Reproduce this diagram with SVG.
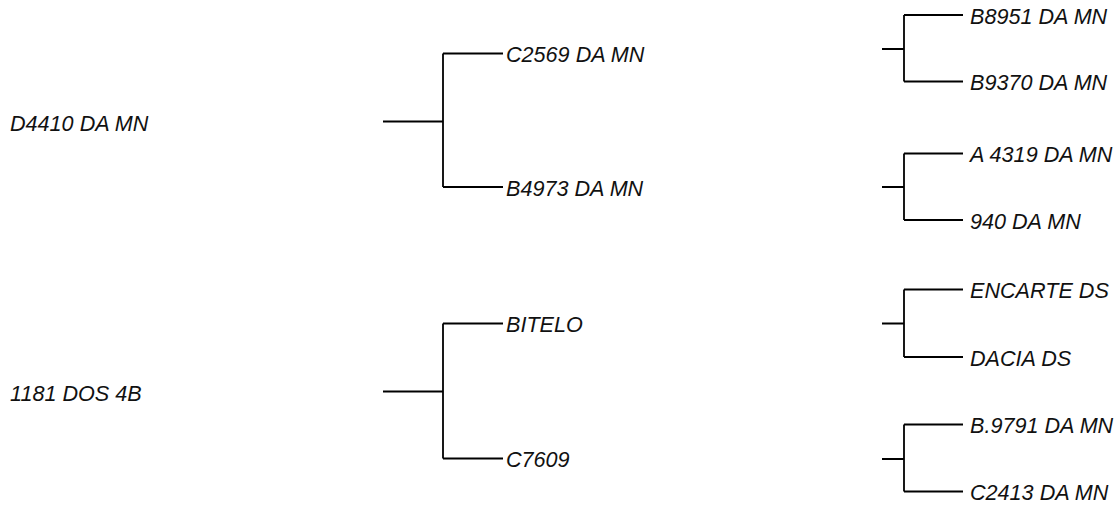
<svg xmlns="http://www.w3.org/2000/svg" width="1117" height="509" viewBox="0 0 1117 509">
<style>
.l{fill:none;stroke:#000;stroke-width:1.8}
text{font-family:"Liberation Sans",Arial,sans-serif;font-style:italic;font-size:21.6px;fill:#111}
</style>
<rect width="1117" height="509" fill="#fff"/>
<g id="connectors">
<path class="l" d="M383,121.5H443M443,53.5V187M443,53.5H503M443,187H503"/>
<path class="l" d="M383,391.5H443M443,323.5V458.5M443,323.5H503M443,458.5H503"/>
<path class="l" d="M882,49H904M904,15V81.5M904,15H963M904,81.5H963"/>
<path class="l" d="M882,187H904M904,153.5V220M904,153.5H963M904,220H963"/>
<path class="l" d="M882,323.5H904M904,289.5V357M904,289.5H963M904,357H963"/>
<path class="l" d="M882,459H904M904,424.5V491.5M904,424.5H963M904,491.5H963"/>
</g>
<g id="n1"><text x="10" y="131">D4410 DA MN</text></g>
<g id="n2"><text x="10" y="401">1181 DOS 4B</text></g>
<g id="n3"><text x="506" y="62">C2569 DA MN</text></g>
<g id="n4"><text x="506" y="195.5">B4973 DA MN</text></g>
<g id="n5"><text x="506" y="332">BITELO</text></g>
<g id="n6"><text x="506" y="467">C7609</text></g>
<g id="n7"><text x="970" y="23.5">B8951 DA MN</text></g>
<g id="n8"><text x="970" y="90">B9370 DA MN</text></g>
<g id="n9"><text x="970" y="162">A 4319 DA MN</text></g>
<g id="n10"><text x="970" y="228.5">940 DA MN</text></g>
<g id="n11"><text x="970" y="298">ENCARTE DS</text></g>
<g id="n12"><text x="970" y="365.5">DACIA DS</text></g>
<g id="n13"><text x="970" y="433">B.9791 DA MN</text></g>
<g id="n14"><text x="970" y="500">C2413 DA MN</text></g>
</svg>
